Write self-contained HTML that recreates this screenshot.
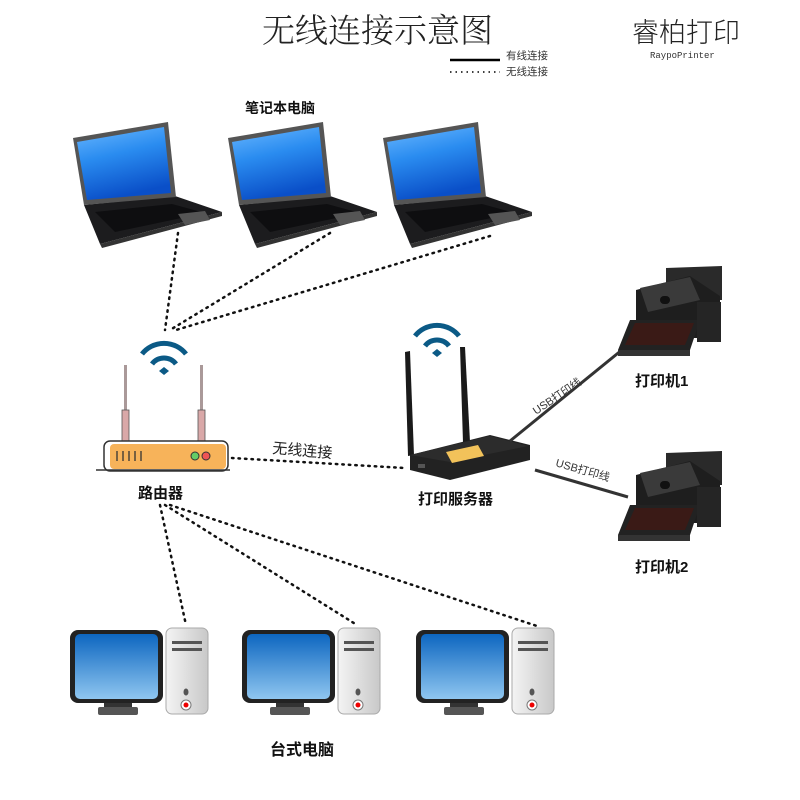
<!DOCTYPE html>
<html><head><meta charset="utf-8"><style>
body{margin:0;background:#fff}
svg{display:block}
text{font-family:"Liberation Sans","Noto Sans CJK SC",sans-serif}
</style></head><body>
<svg width="800" height="800" viewBox="0 0 800 800" xmlns="http://www.w3.org/2000/svg">
<defs>
<linearGradient id="scr" x1="0" y1="0" x2="0.3" y2="1"><stop offset="0" stop-color="#6bb8ff"/><stop offset="0.45" stop-color="#2a8cf0"/><stop offset="1" stop-color="#0a4fc8"/></linearGradient>
<linearGradient id="mon" x1="0" y1="0" x2="0" y2="1"><stop offset="0" stop-color="#0d66c0"/><stop offset="1" stop-color="#8fc6f0"/></linearGradient>
<linearGradient id="tow" x1="0" y1="0" x2="1" y2="0"><stop offset="0" stop-color="#f4f4f4"/><stop offset="1" stop-color="#c8c8c8"/></linearGradient>
<g id="laptop">
<polygon points="84,205 175,196 222,212 100,244" fill="#1c1c1e"/>
<polygon points="100,244 222,212 222,216 102,248" fill="#333"/>
<polygon points="73,138 168,122 176,197 84,205" fill="#555"/>
<polygon points="77,142 164,127 171,193 87,200" fill="url(#scr)"/>
<polygon points="95,212 172,204 205,213 115,232" fill="#0e0e10"/>
<polygon points="178,214 205,211 210,220 185,225" fill="#555"/>
</g>
<g id="wifi" fill="none" stroke="#0b5a86" stroke-width="5">
<path d="M-22,-4 A28,28 0 0 1 22,-4"/>
<path d="M-12,6 A15,15 0 0 1 12,6"/>
<polygon points="-5,13 0,9 5,13 0,17" fill="#0b5a86" stroke="none"/>
</g>
<g id="desk">
<rect x="70" y="630" width="93" height="73" rx="8" fill="#222"/>
<rect x="75" y="634" width="83" height="65" rx="5" fill="url(#mon)"/>
<rect x="104" y="703" width="28" height="4" fill="#333"/>
<rect x="98" y="707" width="40" height="8" rx="2" fill="#555"/>
<rect x="166" y="628" width="42" height="86" rx="6" fill="url(#tow)" stroke="#aaa"/>
<rect x="172" y="641" width="30" height="3" fill="#555"/>
<rect x="172" y="648" width="30" height="3" fill="#555"/>
<ellipse cx="186" cy="692" rx="2.5" ry="3.5" fill="#555"/>
<circle cx="186" cy="705" r="5" fill="#fff" stroke="#777"/>
<circle cx="186" cy="705" r="2.5" fill="#e00"/>
</g>
<g id="printer">
<polygon points="666,268 722,266 722,300 666,300" fill="#2a2a2a"/>
<polygon points="636,290 690,276 720,296 720,338 636,338" fill="#1e1e1e"/>
<polygon points="640,288 690,277 700,300 648,312" fill="#3a3a3a"/>
<rect x="660" y="296" width="10" height="8" rx="4" fill="#111"/>
<polygon points="630,320 700,320 690,350 618,350" fill="#222"/>
<polygon points="635,323 694,323 685,345 625,345" fill="#3a1a16"/>
<rect x="697" y="302" width="24" height="40" fill="#252525"/>
<rect x="618" y="350" width="72" height="6" fill="#333"/>
</g>
</defs>

<text x="262" y="42" font-size="33" fill="#222" style="font-family:'Noto Serif CJK SC',serif;font-weight:300">无线连接示意图</text>
<line x1="450" y1="60" x2="500" y2="60" stroke="#000" stroke-width="2.5"/>
<line x1="450" y1="72" x2="500" y2="72" stroke="#000" stroke-width="1.5" stroke-dasharray="1.5,4"/>
<text x="506" y="59" font-size="10.5" fill="#333">有线连接</text>
<text x="506" y="75" font-size="10.5" fill="#333">无线连接</text>
<text x="632" y="42" font-size="27" fill="#222" style="font-weight:300">睿柏打印</text>
<text x="650" y="58" font-size="9" fill="#333" style="font-family:'Liberation Mono',monospace">RaypoPrinter</text>

<text x="245" y="113" font-size="14" font-weight="bold" fill="#111">笔记本电脑</text>
<use href="#laptop"/>
<use href="#laptop" x="155"/>
<use href="#laptop" x="310"/>

<g stroke="#111" stroke-width="2.5" stroke-dasharray="1.5,5" stroke-linecap="round" fill="none">
<line x1="178" y1="233" x2="165" y2="330"/>
<line x1="330" y1="233" x2="170" y2="330"/>
<line x1="490" y1="236" x2="176" y2="330"/>
<line x1="232" y1="458" x2="405" y2="468"/>
<line x1="160" y1="505" x2="186" y2="625"/>
<line x1="165" y1="505" x2="357" y2="625"/>
<line x1="170" y1="505" x2="540" y2="627"/>
</g>

<use href="#wifi" x="164" y="358"/>
<rect x="124" y="365" width="3" height="45" fill="#a99"/><rect x="122" y="410" width="7" height="33" fill="#d9a8a8" stroke="#555" stroke-width="0.8"/>
<rect x="200" y="365" width="3" height="45" fill="#a99"/><rect x="198" y="410" width="7" height="33" fill="#d9a8a8" stroke="#555" stroke-width="0.8"/>
<rect x="104" y="441" width="124" height="30" rx="6" fill="#fff" stroke="#333" stroke-width="1.5"/>
<rect x="110" y="444" width="116" height="25" rx="4" fill="#f7b35a"/>
<line x1="96" y1="470" x2="230" y2="470" stroke="#333" stroke-width="1.5"/>
<g stroke="#333" stroke-width="1.3"><line x1="117" y1="451" x2="117" y2="461"/><line x1="123" y1="451" x2="123" y2="461"/><line x1="129" y1="451" x2="129" y2="461"/><line x1="135" y1="451" x2="135" y2="461"/><line x1="141" y1="451" x2="141" y2="461"/></g>
<circle cx="195" cy="456" r="4" fill="#6c6" stroke="#333"/><circle cx="206" cy="456" r="4" fill="#e55" stroke="#333"/>
<text x="138" y="498" font-size="15" font-weight="bold" fill="#111">路由器</text>
<text x="272" y="453" font-size="15" fill="#222" transform="rotate(5 272 453)">无线连接</text>

<use href="#wifi" x="437" y="340"/>
<polygon points="405,352 410,351 414,455 408,456" fill="#1a1a1a"/>
<polygon points="460,347 465,347 470,442 463,443" fill="#1a1a1a"/>
<polygon points="410,455 490,435 530,445 530,460 450,480 410,470" fill="#222"/>
<polygon points="410,455 490,436 528,446 450,462" fill="#2c2c2c"/>
<polygon points="446,452 478,445 484,456 452,463" fill="#f2c25a"/>
<rect x="418" y="464" width="7" height="4" fill="#555"/>
<text x="418" y="504" font-size="15" font-weight="bold" fill="#111">打印服务器</text>

<line x1="510" y1="441" x2="628" y2="345" stroke="#333" stroke-width="3"/>
<line x1="535" y1="470" x2="628" y2="497" stroke="#333" stroke-width="3"/>
<text x="536" y="415" font-size="11" fill="#333" transform="rotate(-34 536 415)">USB打印线</text>
<text x="555" y="466" font-size="11" fill="#333" transform="rotate(16 555 466)">USB打印线</text>

<use href="#printer"/>
<use href="#printer" y="185"/>
<text x="635" y="386" font-size="15" font-weight="bold" fill="#111">打印机1</text>
<text x="635" y="572" font-size="15" font-weight="bold" fill="#111">打印机2</text>

<use href="#desk"/>
<use href="#desk" x="172"/>
<use href="#desk" x="346"/>
<text x="270" y="755" font-size="16" font-weight="bold" fill="#111">台式电脑</text>
</svg>
</body></html>
